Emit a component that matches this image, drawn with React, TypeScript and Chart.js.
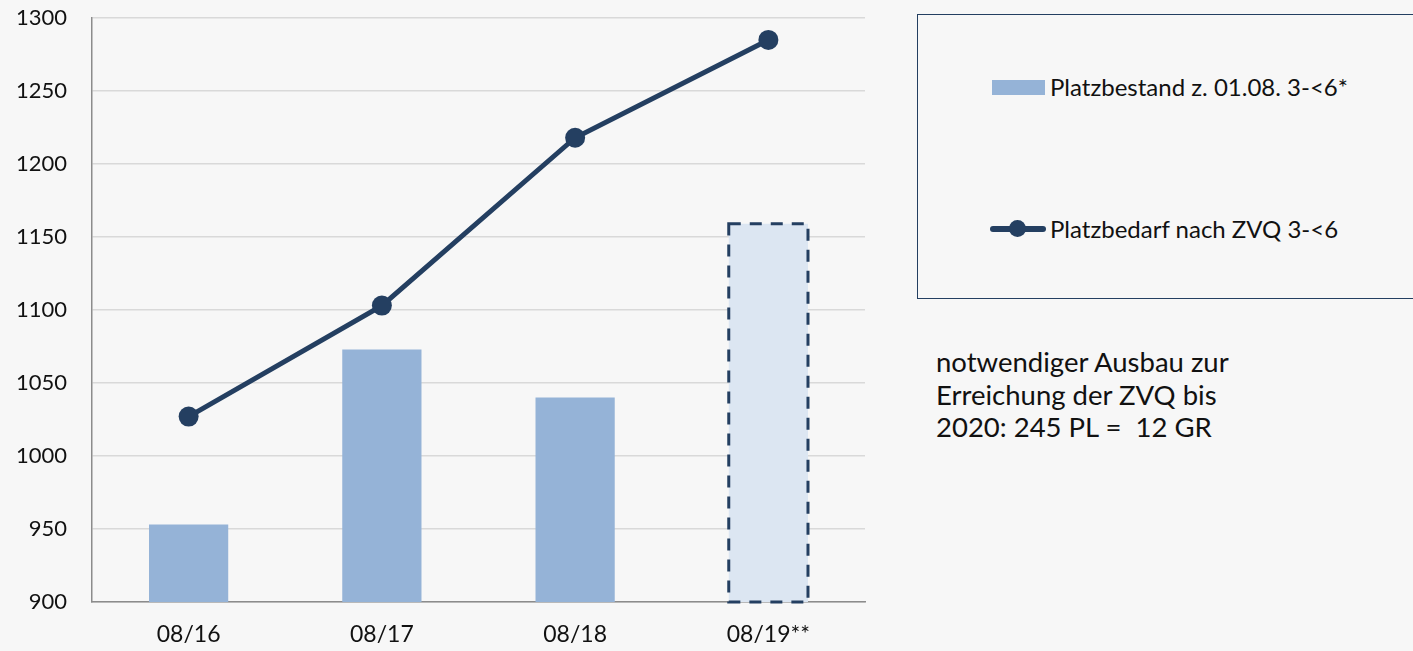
import React, { useEffect, useRef } from "react";
import Chart from "chart.js/auto";

const categories = ["08/16", "08/17", "08/18", "08/19**"];
const platzbestand = [953, 1073, 1040, 1159];
const platzbedarf = [1027, 1103, 1218, 1285];
const forecastIndex = 3;
const yMin = 900;
const yMax = 1300;
const yStep = 50;
const legendLabels = ["Platzbestand z. 01.08. 3-<6*", "Platzbedarf nach ZVQ 3-<6"];
const noteLines = ["notwendiger Ausbau zur", "Erreichung der ZVQ bis", "2020: 245 PL =  12 GR"];

const NAVY = "#243F61";
const BAR = "#95B3D7";
const BAR_LIGHT = "#DCE6F2";
const BG = "#f7f7f7";
const FONT = "Lato, 'Open Sans', sans-serif";

const dashedBarPlugin = {
  id: "dashedBar",
  afterDatasetDraw(chart: any, args: any) {
    if (args.index !== 0) return;
    const meta = chart.getDatasetMeta(0);
    const el = meta.data[forecastIndex];
    if (!el) return;
    const { x, y, base, width } = el.getProps(["x", "y", "base", "width"], true);
    const bottom = Math.min(base, chart.chartArea.bottom);
    const ctx = chart.ctx;
    ctx.save();
    ctx.setLineDash([12, 9]);
    ctx.lineWidth = 3;
    ctx.strokeStyle = NAVY;
    ctx.strokeRect(x - width / 2, y, width, bottom - y);
    ctx.restore();
  },
};

export default function App() {
  const ref = useRef<HTMLCanvasElement | null>(null);
  useEffect(() => {
    if (!ref.current) return;
    const chart = new Chart(ref.current, {
      type: "bar",
      data: {
        labels: categories,
        datasets: [
          {
            type: "bar",
            label: legendLabels[0],
            data: platzbestand,
            backgroundColor: platzbestand.map((_, i) => (i === forecastIndex ? BAR_LIGHT : BAR)),
            borderWidth: 0,
            categoryPercentage: 1,
            barPercentage: 0.41,
            order: 1,
          },
          {
            type: "line",
            label: legendLabels[1],
            data: platzbedarf,
            borderColor: NAVY,
            backgroundColor: NAVY,
            borderWidth: 5,
            pointRadius: 10,
            pointBackgroundColor: NAVY,
            pointBorderWidth: 0,
            tension: 0,
            order: 0,
          } as any,
        ],
      },
      options: {
        responsive: false,
        animation: false,
        layout: { padding: { top: 18, right: 35, left: 0, bottom: 0 } },
        plugins: { legend: { display: false }, tooltip: { enabled: false } },
        scales: {
          x: {
            grid: { display: false, drawTicks: false },
            border: { color: "#8c8c8c", width: 1.5 },
            ticks: { color: "#111", font: { family: FONT, size: 23 }, padding: 19 },
            afterFit: (s: any) => {
              s.height = 49;
              s.paddingLeft = 0;
              s.paddingRight = 0;
            },
          },
          y: {
            min: yMin,
            max: yMax,
            grid: { color: "#d9d9d9", lineWidth: 1.5, drawTicks: false },
            border: { color: "#8c8c8c", width: 1.5 },
            ticks: {
              stepSize: yStep,
              color: "#111",
              font: { family: FONT, size: 22 },
              padding: 25,
              callback: (v: any) => String(v),
            },
            afterFit: (s: any) => {
              s.width = 92;
              s.paddingTop = 0;
              s.paddingBottom = 0;
            },
          },
        },
      },
      plugins: [dashedBarPlugin],
    });
    return () => chart.destroy();
  }, []);

  const textStyle: React.CSSProperties = {
    fontFamily: FONT,
    fontSize: 24,
    color: "#111",
    whiteSpace: "pre",
    position: "absolute",
    lineHeight: 1.2,
  };

  return (
    <div style={{ position: "fixed", left: 0, top: 0, width: 1413, height: 651, background: BG, overflow: "hidden" }}>
      <canvas ref={ref} width={900} height={651} style={{ position: "absolute", left: 0, top: 0 }} />
      <div
        style={{
          position: "absolute",
          left: 917,
          top: 14,
          width: 520,
          height: 285,
          border: `1.5px solid ${NAVY}`,
          boxSizing: "border-box",
        }}
      />
      <div style={{ position: "absolute", left: 992, top: 80, width: 53, height: 15, background: BAR }} />
      <div style={{ ...textStyle, left: 1050, top: 87, transform: "translateY(-50%)" }}>{legendLabels[0]}</div>
      <div style={{ position: "absolute", left: 990, top: 226, width: 56, height: 5.5, borderRadius: 3, background: NAVY }} />
      <div style={{ position: "absolute", left: 1009, top: 220, width: 17, height: 17, borderRadius: 9, background: NAVY }} />
      <div style={{ ...textStyle, left: 1050, top: 229, transform: "translateY(-50%)" }}>{legendLabels[1]}</div>
      {noteLines.map((t, i) => (
        <div
          key={i}
          style={{ ...textStyle, fontSize: 27.5, left: 936, top: 361 + i * 32.5, transform: "translateY(-50%)" }}
        >
          {t}
        </div>
      ))}
    </div>
  );
}
